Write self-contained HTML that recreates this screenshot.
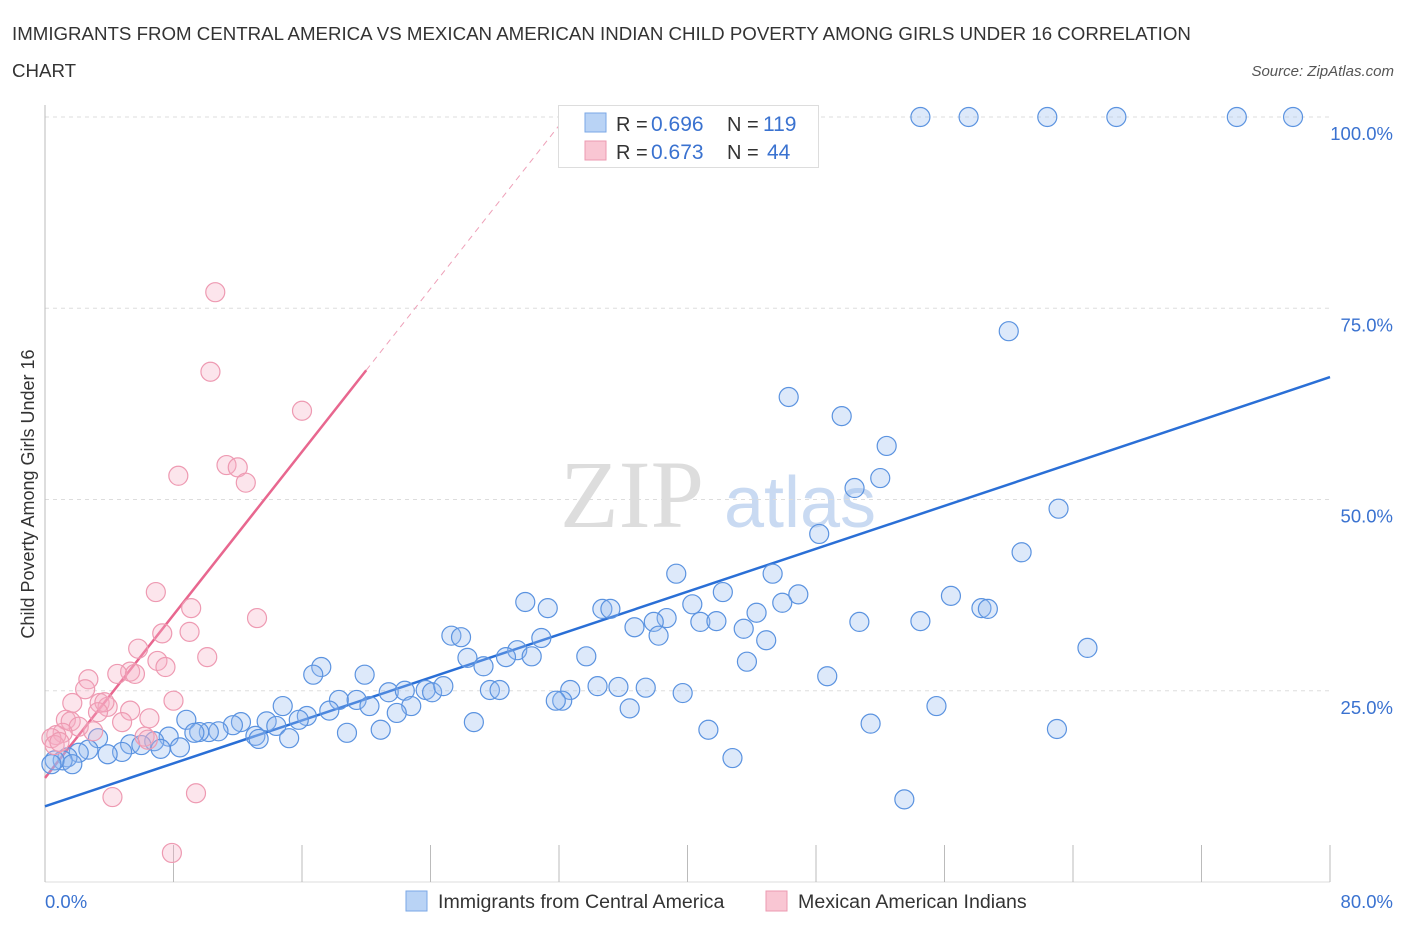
<!DOCTYPE html>
<html><head><meta charset="utf-8"><style>
body{margin:0;background:#fff;font-family:"Liberation Sans",sans-serif}
</style></head><body>
<svg width="1406" height="930" xmlns="http://www.w3.org/2000/svg">
<text x="12" y="40" font-size="18.7" fill="#333">IMMIGRANTS FROM CENTRAL AMERICA VS MEXICAN AMERICAN INDIAN CHILD POVERTY AMONG GIRLS UNDER 16 CORRELATION</text>
<text x="12" y="77" font-size="18.7" fill="#333">CHART</text>
<text x="1394" y="76" font-size="15" fill="#555" font-style="italic" text-anchor="end">Source: ZipAtlas.com</text>
<g>
<text x="632" y="527" font-size="96" fill="#ddd" font-family="Liberation Serif,serif" text-anchor="middle">ZIP</text>
<text x="800" y="527" font-size="72" fill="#c9daf2" text-anchor="middle">atlas</text>
</g>
<g id="grid"></g>
<g id="axes"></g>
<text transform="translate(34,494) rotate(-90)" font-size="18" fill="#333" text-anchor="middle">Child Poverty Among Girls Under 16</text>
<g id="trend"></g>
<g id="pts"></g>
<g>
<rect x="558.5" y="105.5" width="260" height="62" fill="#fff" stroke="#ddd"/>
<rect x="585" y="113" width="21" height="19" fill="#b9d3f5" stroke="#7aa7e6"/>
<rect x="585" y="141" width="21" height="19" fill="#f9c6d3" stroke="#ec9ab0"/>
<text x="616" y="131" font-size="20" fill="#333">R =</text>
<text x="651" y="131" font-size="21" fill="#3a72d0">0.696</text>
<text x="727" y="131" font-size="20" fill="#333">N =</text>
<text x="763" y="131" font-size="21" fill="#3a72d0">119</text>
<text x="616" y="159" font-size="20" fill="#333">R =</text>
<text x="651" y="159" font-size="21" fill="#3a72d0">0.673</text>
<text x="727" y="159" font-size="20" fill="#333">N =</text>
<text x="767" y="159" font-size="21" fill="#3a72d0">44</text>
</g>
<g>
<rect x="406" y="891" width="21" height="20" fill="#b9d3f5" stroke="#7aa7e6"/>
<text x="438" y="908" font-size="19.6" fill="#333">Immigrants from Central America</text>
<rect x="766" y="891" width="21" height="20" fill="#f9c6d3" stroke="#ec9ab0"/>
<text x="798" y="908" font-size="19.6" fill="#333">Mexican American Indians</text>
</g>
</svg>
<script>
const blueX=[54.5,57.5,62.4,66.7,74.2,77.7,60.0,46.3,49.6,52.4,50.4,52.0,63.1,48.2,60.8,39.3,45.3,42.2,46.9,56.4,58.3,58.7,40.3,45.9,44.3,29.9,31.3,34.7,35.2,38.7,37.9,36.7,40.8,41.8,43.5,50.7,54.5,25.3,25.9,30.9,44.9,38.2,64.9,29.4,33.7,30.3,26.3,27.3,28.7,17.2,43.7,48.7,16.7,19.9,27.7,28.3,32.7,34.4,35.7,37.4,39.7,21.4,22.4,23.7,24.1,24.8,18.3,19.4,20.2,14.8,22.8,36.4,55.5,21.9,17.7,16.3,15.8,26.7,8.8,12.2,13.8,14.4,11.7,10.8,10.2,9.6,9.3,13.1,18.8,20.9,51.4,63.0,41.3,13.3,15.2,7.7,6.8,5.3,6.0,7.2,8.4,3.3,4.8,3.9,2.7,2.1,1.4,1.1,0.6,0.4,1.7,42.8,53.5,32.2,31.8];
const blueY=[100,100,100,100,100,100,72.0,63.4,60.9,57.0,51.5,52.8,48.8,45.5,43.1,40.3,40.3,37.9,37.6,37.4,35.8,35.7,36.3,36.5,35.2,36.6,35.8,35.7,35.7,34.5,34.0,33.3,34.0,34.1,33.1,34.0,34.1,32.2,32.0,31.9,31.6,32.2,30.6,30.3,29.5,29.5,29.3,28.2,29.4,28.1,28.8,26.9,27.1,27.1,25.1,25.1,25.1,25.6,25.5,25.4,24.7,24.8,25.0,25.1,24.8,25.6,23.8,23.8,23.0,23.0,23.0,22.7,23.0,22.1,22.4,21.7,21.2,20.9,21.2,20.9,21.0,20.4,20.5,19.7,19.6,19.6,19.5,19.1,19.5,19.9,20.7,20.0,19.9,18.7,18.8,19.0,18.4,18.0,17.9,17.4,17.6,18.8,17.0,16.7,17.3,16.9,16.3,15.9,15.9,15.4,15.4,16.2,10.8,23.7,23.7];
const pinkX=[10.6,10.3,16.0,8.3,11.3,12.0,12.5,6.9,9.1,7.3,9.0,5.8,10.1,13.2,7.0,7.5,5.3,4.5,5.6,2.7,2.5,8.0,1.7,3.4,3.9,3.7,3.3,5.3,6.5,4.8,1.3,1.6,2.1,3.0,1.1,0.7,0.4,0.6,6.2,6.4,4.2,9.4,7.9,0.9];
const pinkY=[77.1,66.7,61.6,53.1,54.5,54.2,52.2,37.9,35.8,32.5,32.7,30.5,29.4,34.5,28.9,28.1,27.5,27.2,27.2,26.5,25.2,23.7,23.4,23.4,22.9,23.5,22.2,22.4,21.4,20.9,21.2,21.0,20.3,19.7,19.5,19.2,18.8,17.9,19.0,18.6,11.1,11.6,3.8,18.3];
const blueTrend=[9.9,66.0];
const pinkTrend=[13.6,2.665];
const yTicks=[25,50,75,100];
const xTickVals=[0,8,16,24,32,40,48,56,64,72,80];
const NS="http://www.w3.org/2000/svg";
const sx=v=>45+v/80*1285, sy=v=>882-v/100*765;
function mk(tag,attrs,parent){const e=document.createElementNS(NS,tag);for(const k in attrs)e.setAttribute(k,attrs[k]);document.getElementById(parent).appendChild(e);return e;}
for(const t of yTicks){
 const l=mk('line',{x1:45,x2:1330,y1:sy(t),y2:sy(t),stroke:'#ddd','stroke-dasharray':'4 4'},'grid');
 
 
 const tx=mk('text',{x:1393,y:sy(t)+23,'font-size':18.5,fill:'#3a72d0','text-anchor':'end'},'axes');
 tx.textContent=t.toFixed(1)+'%';
 
 
}
const ya=mk('line',{x1:45,x2:45,y1:105,y2:882,stroke:'#bbb'},'axes');


const xa=mk('line',{x1:45,x2:1330,y1:882,y2:882,stroke:'#ddd'},'axes');


for(const v of xTickVals){
 const t=mk('line',{x1:sx(v),x2:sx(v),y1:845,y2:882,stroke:'#bbb'},'axes');
 
 
}
const x0=mk('text',{x:45,y:908,'font-size':18.5,fill:'#3a72d0'},'axes');x0.textContent='0.0%';


const x1=mk('text',{x:1393,y:908,'font-size':18.5,fill:'#3a72d0','text-anchor':'end'},'axes');x1.textContent='80.0%';


for(let i=0;i<blueX.length;i++){
 const c=mk('circle',{cx:sx(blueX[i]),cy:sy(blueY[i]),r:9.5,fill:'rgba(150,188,240,0.32)',stroke:'#5b93e0','stroke-width':1.2},'pts');
 
 
}
for(let i=0;i<pinkX.length;i++){
 const c=mk('circle',{cx:sx(pinkX[i]),cy:sy(pinkY[i]),r:9.5,fill:'rgba(245,175,195,0.32)',stroke:'#ee9ab2','stroke-width':1.2},'pts');
 
 
}
const bt=mk('line',{x1:sx(0),y1:sy(blueTrend[0]),x2:sx(80),y2:sy(blueTrend[1]),stroke:'#2a6fd6','stroke-width':2.5},'trend');


const pEnd=20, pDash=(100-pinkTrend[0])/pinkTrend[1];
const pt=mk('line',{x1:sx(0),y1:sy(pinkTrend[0]),x2:sx(pEnd),y2:sy(pinkTrend[0]+pinkTrend[1]*pEnd),stroke:'#e8678f','stroke-width':2.5},'trend');


const pd=mk('line',{x1:sx(pEnd),y1:sy(pinkTrend[0]+pinkTrend[1]*pEnd),x2:sx(pDash),y2:sy(100),stroke:'#eea0b8','stroke-width':1,'stroke-dasharray':'6 5'},'trend');


</script>
</body></html>
